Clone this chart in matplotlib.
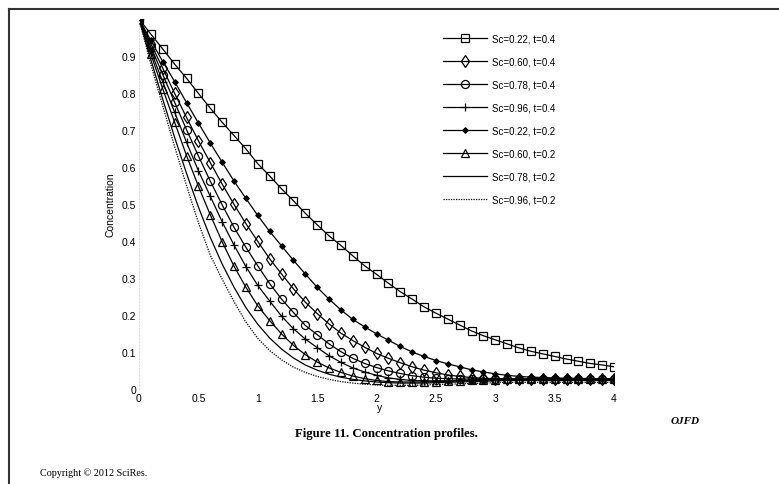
import matplotlib
matplotlib.use('Agg')
import matplotlib.pyplot as plt
from matplotlib.lines import Line2D
import numpy as np

# y positions (every 0.1 from 0 to 4)
y_pos = np.linspace(0, 4, 41)

labels = ['Sc=0.22, t=0.4', 'Sc=0.60, t=0.4', 'Sc=0.78, t=0.4', 'Sc=0.96, t=0.4',
          'Sc=0.22, t=0.2', 'Sc=0.60, t=0.2', 'Sc=0.78, t=0.2', 'Sc=0.96, t=0.2']

# concentration values
c_022_04 = [1.000, 0.959, 0.919, 0.878, 0.840, 0.799, 0.759, 0.721, 0.685, 0.649, 0.609,
            0.576, 0.541, 0.509, 0.475, 0.444, 0.414, 0.388, 0.360, 0.333, 0.310,
            0.286, 0.263, 0.243, 0.222, 0.205, 0.189, 0.173, 0.157, 0.144, 0.133,
            0.122, 0.111, 0.102, 0.095, 0.088, 0.081, 0.075, 0.069, 0.065, 0.060]
c_060_04 = [1.000, 0.933, 0.867, 0.799, 0.734, 0.671, 0.612, 0.554, 0.499, 0.447, 0.399,
            0.352, 0.311, 0.271, 0.235, 0.204, 0.176, 0.151, 0.131, 0.113, 0.096,
            0.083, 0.071, 0.060, 0.051, 0.044, 0.038, 0.034, 0.031, 0.029, 0.028,
            0.027, 0.027, 0.027, 0.027, 0.027, 0.027, 0.027, 0.027, 0.027, 0.027]
c_078_04 = [1.000, 0.924, 0.850, 0.775, 0.701, 0.630, 0.562, 0.498, 0.437, 0.383, 0.333,
            0.285, 0.243, 0.207, 0.172, 0.147, 0.122, 0.101, 0.083, 0.069, 0.058,
            0.049, 0.042, 0.036, 0.032, 0.029, 0.028, 0.027, 0.027, 0.027, 0.027,
            0.027, 0.027, 0.027, 0.027, 0.027, 0.027, 0.027, 0.027, 0.027, 0.027]
c_096_04 = [1.000, 0.914, 0.830, 0.748, 0.667, 0.590, 0.521, 0.452, 0.389, 0.331, 0.280,
            0.238, 0.197, 0.163, 0.135, 0.112, 0.090, 0.072, 0.057, 0.046, 0.037,
            0.030, 0.026, 0.023, 0.022, 0.022, 0.022, 0.023, 0.024, 0.025, 0.026,
            0.026, 0.026, 0.026, 0.026, 0.026, 0.026, 0.026, 0.026, 0.026, 0.026]
c_022_02 = [1.000, 0.942, 0.885, 0.831, 0.774, 0.719, 0.665, 0.613, 0.562, 0.515, 0.469,
            0.426, 0.387, 0.348, 0.311, 0.275, 0.243, 0.214, 0.188, 0.168, 0.149,
            0.132, 0.115, 0.100, 0.088, 0.077, 0.068, 0.060, 0.052, 0.046, 0.041,
            0.037, 0.034, 0.032, 0.031, 0.030, 0.029, 0.029, 0.028, 0.028, 0.028]
c_060_02 = [1.000, 0.905, 0.811, 0.721, 0.631, 0.548, 0.471, 0.398, 0.332, 0.275, 0.225,
            0.185, 0.149, 0.118, 0.093, 0.073, 0.057, 0.045, 0.035, 0.028, 0.023,
            0.020, 0.019, 0.019, 0.019, 0.020, 0.021, 0.022, 0.023, 0.024, 0.025,
            0.026, 0.026, 0.026, 0.026, 0.026, 0.026, 0.026, 0.026, 0.026, 0.026]
c_078_02 = [1.000, 0.890, 0.783, 0.680, 0.583, 0.492, 0.410, 0.338, 0.275, 0.220, 0.175,
            0.138, 0.108, 0.084, 0.065, 0.051, 0.040, 0.032, 0.026, 0.022, 0.019,
            0.017, 0.016, 0.016, 0.016, 0.017, 0.018, 0.019, 0.020, 0.021, 0.022,
            0.023, 0.023, 0.023, 0.023, 0.023, 0.023, 0.023, 0.023, 0.023, 0.023]
c_096_02 = [1.000, 0.877, 0.765, 0.655, 0.550, 0.450, 0.362, 0.297, 0.236, 0.181, 0.137,
            0.104, 0.079, 0.059, 0.045, 0.034, 0.026, 0.020, 0.016, 0.013, 0.011,
            0.010, 0.010, 0.010, 0.011, 0.012, 0.013, 0.014, 0.015, 0.016, 0.017,
            0.018, 0.018, 0.018, 0.018, 0.018, 0.018, 0.018, 0.018, 0.018, 0.018]

series = [c_022_04, c_060_04, c_078_04, c_096_04, c_022_02, c_060_02, c_078_02, c_096_02]

# style for each curve: marker, size, filled, linestyle
styles = [('s', 5.8, False, '-'),
          ('d', 6.2, False, '-'),
          ('o', 5.8, False, '-'),
          ('+', 6.0, False, '-'),
          ('D', 2.8, True, '-'),
          ('^', 6.2, False, '-'),
          (None, 0, False, '-'),
          (None, 0, False, (0, (1, 1)))]

plt.rcParams['font.family'] = ['Liberation Sans', 'DejaVu Sans']

fig = plt.figure(figsize=(7.79, 4.85), dpi=100)
ax = fig.add_axes([139 / 779, 95 / 485, 475 / 779, 370 / 485])

for vals, lab, (mk, ms, filled, ls) in zip(series, labels, styles):
    ax.plot(y_pos, vals, color='black', linewidth=0.9, linestyle=ls,
            marker=mk, markersize=ms, markeredgewidth=0.9,
            markerfacecolor='black' if filled else 'none',
            markeredgecolor='black', label=lab)

ax.set_xlim(0, 4)
ax.set_ylim(0, 1)
ax.set_xticks([0, 0.5, 1, 1.5, 2, 2.5, 3, 3.5, 4])
ax.set_xticklabels(['0', '0.5', '1', '1.5', '2', '2.5', '3', '3.5', '4'])
ax.set_yticks([0, 0.1, 0.2, 0.3, 0.4, 0.5, 0.6, 0.7, 0.8, 0.9])
ax.set_yticklabels(['0', '0.1', '0.2', '0.3', '0.4', '0.5', '0.6', '0.7', '0.8', '0.9'])
ax.tick_params(axis='x', length=0, labelsize=7.5, pad=3)
ax.tick_params(axis='y', length=0, labelsize=7.5, pad=2)

for s in ['top', 'right', 'bottom']:
    ax.spines[s].set_visible(False)
ax.spines['left'].set_color('#dddddd')
ax.spines['left'].set_linestyle((0, (1, 2)))
ax.spines['left'].set_linewidth(0.8)

ax.set_xlabel('y', fontsize=7.5)
ax.xaxis.set_label_coords(0.507, -0.035)
ax.set_ylabel('Concentration', fontsize=7.5)
ax.yaxis.set_label_coords(-0.05, 0.5)

ax.legend(loc='upper left', bbox_to_anchor=(443 / 779, 1 - 34 / 485),
          bbox_transform=fig.transFigure, frameon=False, fontsize=7,
          handlelength=4.5, handletextpad=0.5, labelspacing=1.35,
          borderpad=0, borderaxespad=0, numpoints=1)

# page text
fig.text(386 / 779, 1 - 434 / 485, 'Figure 11. Concentration profiles.',
         ha='center', va='center', fontsize=9.2, fontweight='bold',
         family='Liberation Serif')
fig.text(685 / 779, 1 - 422 / 485, 'OJFD', ha='center', va='center',
         fontsize=8, fontweight='bold', style='italic', family='Liberation Serif')
fig.text(40 / 779, 1 - 473 / 485, 'Copyright \u00a9 2012 SciRes.', ha='left',
         va='center', fontsize=7.3, family='Liberation Serif')

# page frame (top and left edges)
fig.add_artist(Line2D([9 / 779, 1], [1 - 10 / 485, 1 - 10 / 485],
                      transform=fig.transFigure, color='#333333', linewidth=1.5))
fig.add_artist(Line2D([9 / 779, 9 / 779], [0, 1 - 10 / 485],
                      transform=fig.transFigure, color='#333333', linewidth=1.5))

fig.savefig('out.png', dpi=100)
